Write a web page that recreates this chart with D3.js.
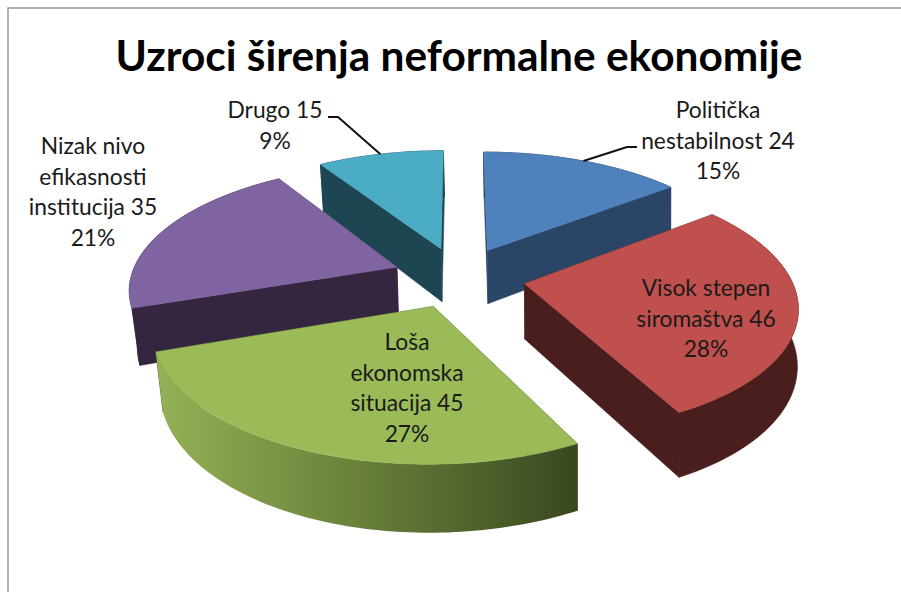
<!DOCTYPE html>
<html>
<head>
<meta charset="utf-8">
<script src="https://cdn.jsdelivr.net/npm/d3@7"></script>
<style>
html,body{margin:0;padding:0;background:#fff;}
svg{display:block;}
text{font-family:Lato,"Open Sans",sans-serif;}
</style>
</head>
<body>
<svg id="c" width="901" height="592"></svg>
<script>
const titleText = "Uzroci širenja neformalne ekonomije";
const categories = ["Politička nestabilnost","Visok stepen siromaštva","Loša ekonomska situacija","Nizak nivo efikasnosti institucija","Drugo"];
const values = [24,46,45,35,15];
const labelLines = [["Politička","nestabilnost"],["Visok stepen","siromaštva"],["Loša","ekonomska","situacija"],["Nizak nivo","efikasnosti","institucija"],["Drugo"]];
const topColors = ["#4f81bd","#c0504d","#9bbb59","#8064a2","#4bacc6"];
const wallColors = ["#2a4566","#4a1e1c","#3c4a20","#352640","#1e4652"];

// layout
const W=901,H=592;
const cx=459,cy=277,A=266,B=122,K=0.16,EXPL=0.25,DEPTH=55,CONVERGE=8,VANISH_X=620,VANISH_SPAN=489;
const labelPos=[{x:718,y:118},{x:706,y:296},{x:407,y:350},{x:93,y:154},{x:275,y:118}];
const leaders={0:[[637,147],[627,147]],4:[[328,117],[338,117]]};
const drawOrder=[4,3,0,1,2];

const svg=d3.select("#c");
svg.append("rect").attr("width",W).attr("height",H).attr("fill","#fff");
svg.append("path").attr("d",d3.line()([[8,H],[8,8],[W,8]])).attr("fill","none").attr("stroke","#999").attr("stroke-width",1.5);

const defs=svg.append("defs");
const grad=defs.append("linearGradient").attr("id","greenWall").attr("gradientUnits","userSpaceOnUse");
grad.append("stop").attr("offset",0).attr("stop-color","#94b256");
grad.append("stop").attr("offset",0.45).attr("stop-color","#6c833c");
grad.append("stop").attr("offset",1).attr("stop-color","#3a4820");

const pie=d3.pie().sort(null).value(d=>d).startAngle(0).endAngle(2*Math.PI);
const arcs=pie(values);
const total=d3.sum(values);
const pct=d3.format(".0%");

function project(u,v,h){
  const s=1/(1+K*v);
  const x=cx+A*u*s;
  const t=(VANISH_X-x)/VANISH_SPAN;
  return [x+CONVERGE*t*Math.abs(t)*h, cy-B*v*s+h*DEPTH*s];
}
function slicePts(d){
  const mid=(d.startAngle+d.endAngle)/2;
  const u0=EXPL*Math.sin(mid), v0=EXPL*Math.cos(mid);
  const n=Math.max(8,Math.round((d.endAngle-d.startAngle)/0.02));
  const rim=d3.range(n+1).map(i=>{
    const a=d.startAngle+(d.endAngle-d.startAngle)*i/n;
    return [u0+Math.sin(a),v0+Math.cos(a)];
  });
  return {apex:[u0,v0],rim,mid,u0,v0};
}
const line=d3.line();

drawOrder.forEach(i=>{
  const d=arcs[i], p=slicePts(d);
  const g=svg.append("g");
  const top=p=>project(p[0],p[1],0), bot=p=>project(p[0],p[1],1);
  const first=p.rim[0], last=p.rim[p.rim.length-1];
  [first,last].forEach(e=>{
    g.append("path").attr("d",line([top(p.apex),top(e),bot(e),bot(p.apex)])+"Z")
      .attr("fill",wallColors[i]).attr("stroke",wallColors[i]).attr("stroke-width",0.5);
  });
  const wall=p.rim.map(top).concat(p.rim.slice().reverse().map(bot));
  let fill=wallColors[i];
  if(i===2){
    const xs=p.rim.map(r=>top(r)[0]);
    grad.attr("x1",d3.min(xs)).attr("x2",d3.max(xs)).attr("y1",0).attr("y2",0);
    fill="url(#greenWall)";
  }
  const w=g.append("path").attr("d",line(wall)+"Z").attr("fill",fill);
  if(i!==2) w.attr("stroke",wallColors[i]).attr("stroke-width",0.8);
  g.append("path").attr("d",line([top(p.apex)].concat(p.rim.map(top)))+"Z")
    .attr("fill",topColors[i]).attr("stroke",topColors[i]).attr("stroke-width",0.5);
});

// leader lines
Object.keys(leaders).forEach(k=>{
  const p=slicePts(arcs[k]);
  const u=p.u0+Math.sin(p.mid), v=p.v0+Math.cos(p.mid);
  svg.append("path").attr("d",line(leaders[k].concat([project(u,v,0)])))
    .attr("fill","none").attr("stroke","#111").attr("stroke-width",2);
});

// title
svg.append("text").attr("x",459).attr("y",71).attr("text-anchor","middle")
  .attr("font-size",42.4).attr("font-weight",700).attr("fill","#000").text(titleText);

// labels
labelLines.forEach((ls,i)=>{
  const lines=ls.slice();
  lines[lines.length-1]+=" "+values[i];
  lines.push(pct(values[i]/total));
  const t=svg.append("text").attr("text-anchor","middle").attr("font-size",22.8).attr("fill","#1a1a1a");
  lines.forEach((s,j)=>{
    t.append("tspan").attr("x",labelPos[i].x).attr("y",labelPos[i].y+j*30.6).text(s);
  });
});
</script>
</body>
</html>
